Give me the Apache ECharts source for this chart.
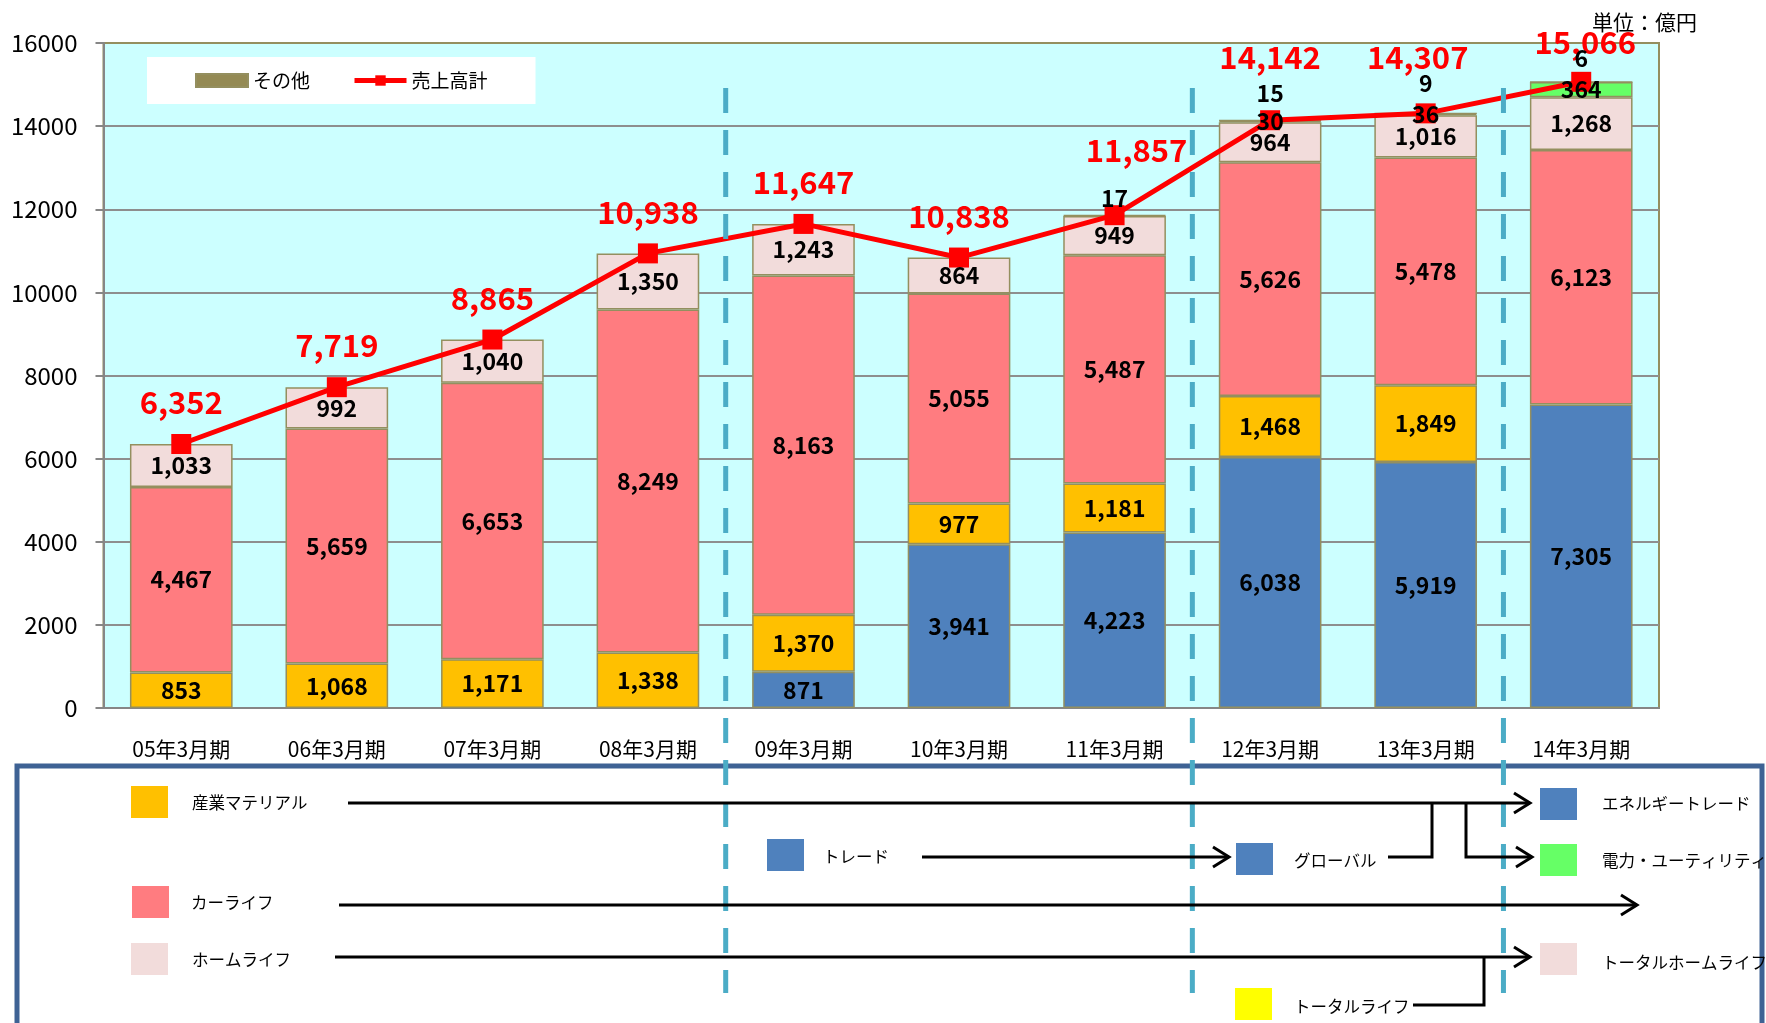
<!DOCTYPE html>
<html>
<head>
<meta charset="utf-8">
<script src="https://cdn.jsdelivr.net/npm/echarts@6/dist/echarts.min.js"></script>
<style>
  html, body { margin: 0; padding: 0; background: #fff; }
  #chart { width: 1766px; height: 1023px; }
</style>
</head>
<body>
<div id="chart"></div>
<script>
var categories = ['05年3月期', '06年3月期', '07年3月期', '08年3月期', '09年3月期',
                  '10年3月期', '11年3月期', '12年3月期', '13年3月期', '14年3月期'];
// segment sales, 億円 (bottom of stack first)
var trade     = [null, null, null, null, 871, 3941, 4223, 6038, 5919, 7305];
var material  = [853, 1068, 1171, 1338, 1370, 977, 1181, 1468, 1849, null];
var carLife   = [4467, 5659, 6653, 8249, 8163, 5055, 5487, 5626, 5478, 6123];
var homeLife  = [1033, 992, 1040, 1350, 1243, 864, 949, 964, 1016, 1268];
var totalLife = [null, null, null, null, null, null, null, 30, 36, null];
var power     = [null, null, null, null, null, null, null, null, null, 364];
var others    = [null, null, null, null, null, null, 17, 15, 9, 6];
var sales     = [6352, 7719, 8865, 10938, 11647, 10838, 11857, 14142, 14307, 15066];
var yMin = 0, yMax = 16000, yStep = 2000;
// reorganisations happen after these category indexes
var reorgAfter = [3, 6, 8];

var jp = '"Noto Sans CJK JP", "Noto Sans", sans-serif';
var rimColor = '#948F5F';

function comma(v) { return v == null ? '' : v.toLocaleString('en-US'); }

var segments = [
  ['グローバル', trade, '#4F81BD'],
  ['産業マテリアル', material, '#FFC000'],
  ['カーライフ', carLife, '#FF7C80'],
  ['ホームライフ', homeLife, '#F2DCDB'],
  ['トータルライフ', totalLife, '#FFFF00'],
  ['電力・ユーティリティ', power, '#66FF66'],
  ['その他', others, '#948A54']
];

var series = [];
// the coloured stacks, below the sales line
segments.forEach(function (s) {
  series.push({
    name: s[0], type: 'bar', stack: 'sales', data: s[1], barWidth: '66%', z: 2,
    itemStyle: { color: s[2], borderColor: rimColor, borderWidth: 1.5 },
    label: { show: false }
  });
});

// a few total labels sit higher / shifted to clear other labels
var lift = { 6: [39, 22], 7: [38, 0], 8: [31, -8], 9: [14, 4] };
var salesData = sales.map(function (v, i) {
  var item = { value: v };
  if (lift[i]) item.label = { distance: lift[i][0], offset: [lift[i][1], 0] };
  return item;
});
series.push({
  name: '売上高計', type: 'line', data: salesData, z: 3,
  symbol: 'rect', symbolSize: 20,
  lineStyle: { color: '#FF0000', width: 5 },
  itemStyle: { color: '#FF0000' },
  label: {
    show: true, position: 'top', distance: 16,
    color: '#FF0000', fontSize: 31, fontWeight: 'bold', fontFamily: jp,
    formatter: function (p) { return comma(p.value); }
  }
});

// gap above the bar for the small "その他" labels
var otherGap = { 6: 5, 7: 15, 8: 19, 9: 12 };

// transparent copy of the stacks that only carries the value labels, above the line
segments.forEach(function (s) {
  var top = s[0] === 'その他';
  var data = top ? s[1].map(function (v, i) {
    return v == null ? v : { value: v, label: { distance: otherGap[i] } };
  }) : s[1];
  series.push({
    name: 'label-' + s[0], type: 'bar', stack: 'labels', data: data, barWidth: '66%', z: 4,
    silent: true, barGap: '-100%',
    itemStyle: { color: 'rgba(0,0,0,0)', borderWidth: 0 },
    label: {
      show: true, position: top ? 'top' : 'inside', distance: 12,
      color: '#000', fontSize: 23, fontWeight: 'bold', fontFamily: jp,
      formatter: function (p) { return comma(p.value); }
    }
  });
});

var chart = echarts.init(document.getElementById('chart'));
chart.setOption({
  animation: false,
  backgroundColor: '#fff',
  title: {
    text: '単位：億円', right: 64, top: 7,
    textStyle: { fontSize: 21, fontWeight: 'normal', color: '#000', fontFamily: jp }
  },
  legend: {
    data: [{ name: 'その他', icon: 'rect' }, { name: '売上高計', lineStyle: { width: 5 } }],
    left: 147, top: 57,
    backgroundColor: '#fff',
    padding: [14, 48, 14, 48],
    itemGap: 42, itemWidth: 52, itemHeight: 13,
    textStyle: { fontSize: 19, color: '#000', fontFamily: jp }
  },
  grid: {
    left: 103.5, right: 107, top: 43, bottom: 315,
    show: true, backgroundColor: '#CCFFFF', borderColor: rimColor, borderWidth: 2
  },
  xAxis: {
    type: 'category', data: categories,
    axisLine: { lineStyle: { color: '#868686', width: 2 } },
    axisTick: { length: 7, lineStyle: { color: '#868686', width: 2 } },
    axisLabel: { fontSize: 21, color: '#000', margin: 31, fontFamily: jp }
  },
  yAxis: {
    type: 'value', min: yMin, max: yMax, interval: yStep,
    axisLine: { show: true, lineStyle: { color: '#868686', width: 2 } },
    axisTick: { show: true, length: 8, lineStyle: { color: '#868686', width: 2 } },
    splitLine: { showMaxLine: false, lineStyle: { color: '#8E8E8E', width: 2 } },
    axisLabel: { fontSize: 24, color: '#000', margin: 26, fontFamily: jp,
                 formatter: function (v) { return String(v); } }
  },
  series: series
});

// --- dashed reorganisation lines + segment diagram below the chart ---
function arrowHead(x, y) {
  return { type: 'polyline', z: 12, shape: { points: [[x - 16, y - 10], [x, y], [x - 16, y + 10]] },
           style: { stroke: '#000', lineWidth: 3, fill: 'none' } };
}
function path(points) {
  return { type: 'polyline', z: 12, shape: { points: points }, style: { stroke: '#000', lineWidth: 3, fill: 'none' } };
}
function swatch(x, y, color) {
  return { type: 'rect', z: 12, shape: { x: x, y: y, width: 37, height: 32 }, style: { fill: color } };
}
function caption(x, y, text) {
  return { type: 'text', z: 12, x: x, y: y,
           style: { text: text, fill: '#000', fontSize: 16.5, fontFamily: jp, verticalAlign: 'middle' } };
}

var g = [];
g.push({ type: 'rect', z: 8, shape: { x: 17, y: 766, width: 1745, height: 400 },
         style: { fill: '#fff', stroke: '#3E6294', lineWidth: 5 } });

reorgAfter.forEach(function (i) {
  var xa = chart.convertToPixel({ xAxisIndex: 0 }, i);
  var xb = chart.convertToPixel({ xAxisIndex: 0 }, i + 1);
  var x = (xa + xb) / 2;
  g.push({ type: 'line', z: 10, shape: { x1: x, y1: 88, x2: x, y2: 993 },
           style: { stroke: '#4BACC6', lineWidth: 5, lineDash: [25, 17] } });
});

// 産業マテリアル row
g.push(swatch(131, 786, '#FFC000'), caption(192, 803, '産業マテリアル'));
g.push(path([[348, 803], [1530, 803]]), arrowHead(1530, 803));
g.push(path([[1388, 857], [1432, 857], [1432, 803]]));
g.push(path([[1466, 803], [1466, 857], [1532, 857]]), arrowHead(1532, 857));
g.push(swatch(1540, 788, '#4F81BD'), caption(1602, 804, 'エネルギートレード'));
g.push(swatch(1540, 844, '#66FF66'), caption(1602, 861, '電力・ユーティリティ'));
// トレード row
g.push(swatch(767, 839, '#4F81BD'), caption(823, 857, 'トレード'));
g.push(path([[922, 857], [1229, 857]]), arrowHead(1229, 857));
g.push(swatch(1236, 843, '#4F81BD'), caption(1294, 861, 'グローバル'));
// カーライフ row
g.push(swatch(132, 886, '#FF7C80'), caption(191, 903, 'カーライフ'));
g.push(path([[339, 905], [1637, 905]]), arrowHead(1637, 905));
// ホームライフ row
g.push(swatch(131, 943, '#F2DCDB'), caption(192, 960, 'ホームライフ'));
g.push(path([[335, 957], [1530, 957]]), arrowHead(1530, 957));
g.push(swatch(1540, 943, '#F2DCDB'), caption(1602, 963, 'トータルホームライフ'));
// トータルライフ
g.push(swatch(1235, 988, '#FFFF00'), caption(1294, 1007, 'トータルライフ'));
g.push(path([[1413, 1005], [1484, 1005], [1484, 957]]));

chart.setOption({ graphic: g });
window.addEventListener('resize', function () { chart.resize(); });
</script>
</body>
</html>
